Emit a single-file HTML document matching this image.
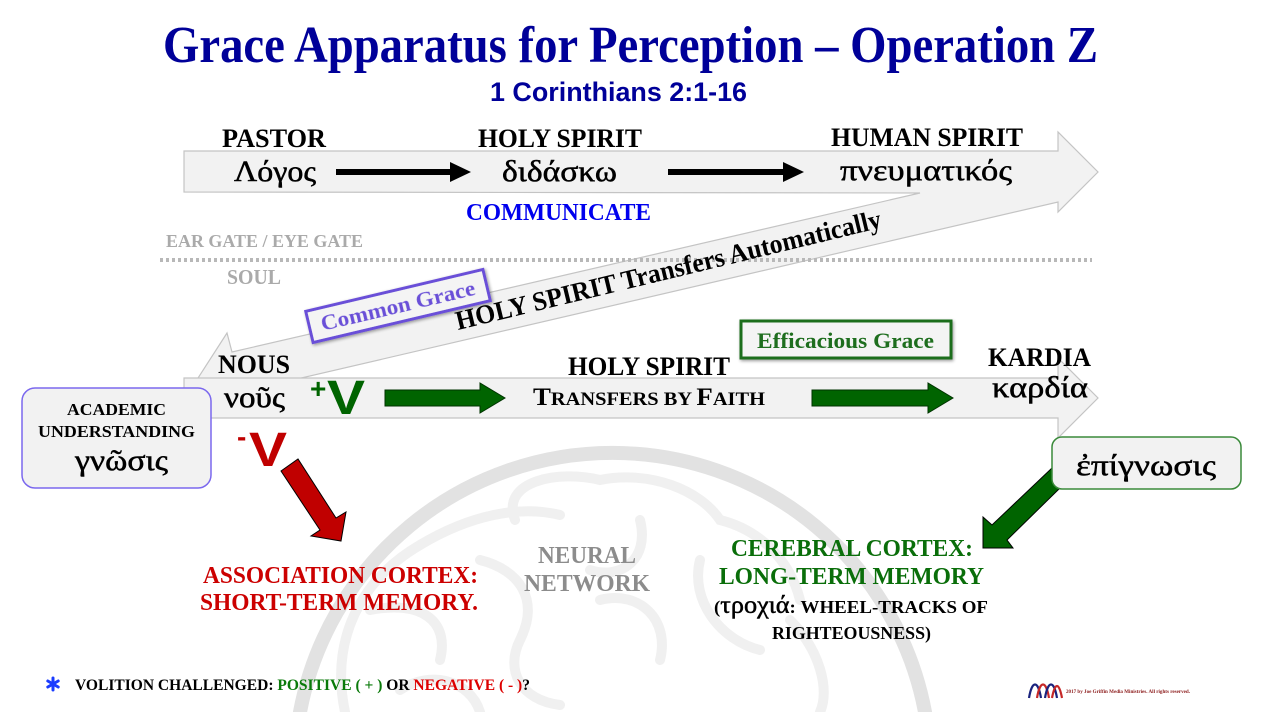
<!DOCTYPE html>
<html><head><meta charset="utf-8"><style>
html,body{margin:0;padding:0;background:#fff;}
svg{display:block;}
.s{font-family:"Liberation Serif","DejaVu Serif",serif;font-weight:bold;}
.g{font-family:"Liberation Serif","DejaVu Serif",serif;font-weight:normal;stroke:#000;stroke-width:0.5;}
.a{font-family:"Liberation Sans","DejaVu Sans",sans-serif;font-weight:bold;}
</style></head><body>
<svg width="1262" height="712" viewBox="0 0 1262 712" xmlns="http://www.w3.org/2000/svg">
<defs>
<filter id="sh" x="-20%" y="-40%" width="140%" height="180%"><feGaussianBlur in="SourceAlpha" stdDeviation="1.5"/><feOffset dx="1" dy="1.5"/><feComponentTransfer><feFuncA type="linear" slope="0.4"/></feComponentTransfer><feMerge><feMergeNode/><feMergeNode in="SourceGraphic"/></feMerge></filter>
</defs>
<!-- brain watermark -->
<g fill="none" stroke-linecap="round">
<path d="M 300 712 A 318 318 0 0 1 925 712" stroke="#e2e2e2" stroke-width="14"/>
<g stroke="#f0f0f0" stroke-width="10">
<path d="M 345 712 C 330 640, 360 580, 420 545 C 470 515, 520 505, 560 515"/>
<path d="M 515 520 C 500 480, 560 470, 600 480 C 650 470, 700 490, 720 520 C 760 530, 790 560, 800 600"/>
<path d="M 370 610 C 420 600, 450 620, 440 660"/>
<path d="M 480 560 C 520 570, 540 600, 520 640 C 505 670, 520 700, 560 705"/>
<path d="M 600 600 C 640 590, 670 620, 660 660"/>
<path d="M 700 560 C 690 600, 720 640, 760 650"/>
<path d="M 640 520 C 650 560, 620 580, 590 570"/>
<path d="M 790 620 C 820 650, 830 690, 820 712"/>
<path d="M 400 690 C 430 670, 470 680, 480 712"/>
</g>
</g>

<!-- title -->
<text x="163" y="62" class="s" font-size="52" fill="#000099" textLength="935" lengthAdjust="spacingAndGlyphs">Grace Apparatus for Perception – Operation Z</text>
<text x="490" y="101" class="a" font-size="27" fill="#000099" textLength="257" lengthAdjust="spacingAndGlyphs">1 Corinthians 2:1-16</text>

<!-- union of top arrow + diagonal arrow -->
<polygon points="184,151 1058,151 1058,132 1098,172 1058,212 1058,202 241,392 244,406 198,378 227,333 232,352 920,193 184,192" fill="#f2f2f2" stroke="#c4c4c4" stroke-width="1.2"/>

<!-- dotted line -->
<line x1="160" y1="260" x2="1092" y2="260" stroke="#b8b8b8" stroke-width="4" stroke-dasharray="3,3"/>

<!-- bottom arrow -->
<polygon points="184,378 1058,378 1058,358 1098,398 1058,438 1058,418 184,418" fill="#f2f2f2" stroke="#c4c4c4" stroke-width="1.2"/>

<!-- top row labels -->
<text x="222" y="147" class="s" font-size="26" fill="#000" textLength="104" lengthAdjust="spacingAndGlyphs">PASTOR</text>
<text x="478" y="147" class="s" font-size="26" fill="#000" textLength="164" lengthAdjust="spacingAndGlyphs">HOLY SPIRIT</text>
<text x="831" y="146" class="s" font-size="26" fill="#000" textLength="192" lengthAdjust="spacingAndGlyphs">HUMAN SPIRIT</text>
<text x="234" y="181" class="g" font-size="30" fill="#000" textLength="82" lengthAdjust="spacingAndGlyphs">Λόγος</text>
<text x="502" y="181" class="g" font-size="30" fill="#000" textLength="115" lengthAdjust="spacingAndGlyphs">διδάσκω</text>
<text x="840" y="180" class="g" font-size="30" fill="#000" textLength="172" lengthAdjust="spacingAndGlyphs">πνευματικός</text>

<!-- black arrows -->
<line x1="336" y1="172" x2="452" y2="172" stroke="#000" stroke-width="6"/>
<polygon points="450,162 471,172 450,182" fill="#000"/>
<line x1="668" y1="172" x2="785" y2="172" stroke="#000" stroke-width="6"/>
<polygon points="783,162 804,172 783,182" fill="#000"/>

<text x="466" y="220" class="s" font-size="24" fill="#0000ee" textLength="185" lengthAdjust="spacingAndGlyphs">COMMUNICATE</text>
<text x="166" y="247" class="s" font-size="18" fill="#aaaaaa" textLength="197" lengthAdjust="spacingAndGlyphs">EAR GATE / EYE GATE</text>
<text x="227" y="284" class="s" font-size="21" fill="#aaaaaa" textLength="54" lengthAdjust="spacingAndGlyphs">SOUL</text>

<!-- diagonal text -->
<g transform="translate(458,330) rotate(-13.6)">
<text x="0" y="0" class="s" font-size="27" fill="#000" textLength="437" lengthAdjust="spacingAndGlyphs">HOLY SPIRIT Transfers Automatically</text>
</g>

<!-- Common Grace box -->
<g transform="translate(398,306) rotate(-13.3)" filter="url(#sh)">
<rect x="-91" y="-16" width="182" height="32" fill="#f4f4f4" stroke="#6a4fd8" stroke-width="3"/>
<text x="0" y="7" class="s" font-size="22" fill="#6a4fd8" text-anchor="middle" textLength="158" lengthAdjust="spacingAndGlyphs">Common Grace</text>
</g>

<!-- bottom row -->
<text x="218" y="373" class="s" font-size="26" fill="#000" textLength="72" lengthAdjust="spacingAndGlyphs">NOUS</text>
<text x="224" y="407" class="g" font-size="30" fill="#000" textLength="61" lengthAdjust="spacingAndGlyphs">νοῦς</text>
<text x="310" y="398" class="a" font-size="28" fill="#006400">+</text>
<text x="327" y="414" class="a" font-size="48" fill="#006400" textLength="38" lengthAdjust="spacingAndGlyphs">V</text>

<polygon points="385,390 480,390 480,383 505,398 480,413 480,406 385,406" fill="#006400" stroke="#003300" stroke-width="1"/>
<polygon points="812,390 928,390 928,383 953,398 928,413 928,406 812,406" fill="#006400" stroke="#003300" stroke-width="1"/>

<text x="568" y="375" class="s" font-size="26" fill="#000" textLength="162" lengthAdjust="spacingAndGlyphs">HOLY SPIRIT</text>
<text x="533" y="405" class="s" fill="#000" textLength="232" lengthAdjust="spacingAndGlyphs"><tspan font-size="25">T</tspan><tspan font-size="19">RANSFERS BY </tspan><tspan font-size="25">F</tspan><tspan font-size="19">AITH</tspan></text>

<!-- Efficacious Grace -->
<g filter="url(#sh)">
<rect x="741" y="321" width="210" height="37" fill="#f4f4f4" stroke="#1e6e1e" stroke-width="3"/>
</g>
<text x="757" y="348" class="s" font-size="22" fill="#1e6e1e" textLength="177" lengthAdjust="spacingAndGlyphs">Efficacious Grace</text>

<text x="988" y="366" class="s" font-size="26" fill="#000" textLength="103" lengthAdjust="spacingAndGlyphs">KARDIA</text>
<text x="992" y="397" class="g" font-size="30" fill="#000" textLength="96" lengthAdjust="spacingAndGlyphs">καρδία</text>

<!-- academic box -->
<rect x="22" y="388" width="189" height="100" rx="13" ry="13" fill="#f2f2f2" stroke="#7b68ee" stroke-width="1.5"/>
<text x="67" y="415" class="s" font-size="17" fill="#000" textLength="99" lengthAdjust="spacingAndGlyphs">ACADEMIC</text>
<text x="38" y="437" class="s" font-size="17" fill="#000" textLength="157" lengthAdjust="spacingAndGlyphs">UNDERSTANDING</text>
<text x="75" y="470" class="g" font-size="30" fill="#000" textLength="93" lengthAdjust="spacingAndGlyphs">γνῶσις</text>

<!-- -V and red arrow -->
<text x="237" y="446" class="a" font-size="28" fill="#c00000">-</text>
<text x="249" y="466" class="a" font-size="48" fill="#c00000" textLength="38" lengthAdjust="spacingAndGlyphs">V</text>
<polygon points="281,471 298,459 336,518 346,512 341,541 311,536 320,530" fill="#c00000" stroke="#000" stroke-width="1"/>

<!-- epignosis box & green arrow -->
<polygon points="1052,468 1060,488 1007,540 1013,548 983,548 983,517 992,525" fill="#006400" stroke="#000" stroke-width="1"/>
<rect x="1052" y="437" width="189" height="52" rx="10" ry="10" fill="#f2f2f2" stroke="#3a8a3a" stroke-width="1.5"/>
<text x="1076" y="475" class="g" font-size="30" fill="#000" textLength="140" lengthAdjust="spacingAndGlyphs">ἐπίγνωσις</text>

<!-- bottom texts -->
<text x="203" y="583" class="s" font-size="24" fill="#cc0000" textLength="275" lengthAdjust="spacingAndGlyphs">ASSOCIATION CORTEX:</text>
<text x="200" y="610" class="s" font-size="24" fill="#cc0000" textLength="278" lengthAdjust="spacingAndGlyphs">SHORT-TERM MEMORY.</text>
<text x="538" y="563" class="s" font-size="24" fill="#8c8c8c" textLength="98" lengthAdjust="spacingAndGlyphs">NEURAL</text>
<text x="524" y="591" class="s" font-size="24" fill="#8c8c8c" textLength="126" lengthAdjust="spacingAndGlyphs">NETWORK</text>
<text x="731" y="556" class="s" font-size="24" fill="#0a6e0a" textLength="242" lengthAdjust="spacingAndGlyphs">CEREBRAL CORTEX:</text>
<text x="719" y="584" class="s" font-size="24" fill="#0a6e0a" textLength="265" lengthAdjust="spacingAndGlyphs">LONG-TERM MEMORY</text>
<text x="714" y="613" fill="#000" textLength="274" lengthAdjust="spacingAndGlyphs"><tspan class="s" font-size="18">(</tspan><tspan class="g" font-size="25">τροχιά</tspan><tspan class="s" font-size="18">: WHEEL-TRACKS OF</tspan></text>
<text x="772" y="639" class="s" font-size="18" fill="#000" textLength="159" lengthAdjust="spacingAndGlyphs">RIGHTEOUSNESS)</text>

<!-- footer -->
<g stroke="#1a3cff" stroke-width="3" stroke-linecap="round">
<line x1="53" y1="678" x2="53" y2="690"/>
<line x1="47.8" y1="681" x2="58.2" y2="687"/>
<line x1="47.8" y1="687" x2="58.2" y2="681"/>
</g>
<text x="75" y="690" class="s" font-size="16" textLength="455" lengthAdjust="spacingAndGlyphs"><tspan fill="#000">VOLITION CHALLENGED: </tspan><tspan fill="#0a7a0a">POSITIVE ( + ) </tspan><tspan fill="#000">OR </tspan><tspan fill="#dd0000">NEGATIVE ( - )</tspan><tspan fill="#000">?</tspan></text>

<!-- copyright -->
<g fill="none" stroke-width="2.2">
<path d="M 1029 698 C 1032 680, 1038 680, 1041 698" stroke="#1a237e"/>
<path d="M 1037 698 C 1040 680, 1046 680, 1049 698" stroke="#c62828"/>
<path d="M 1045 698 C 1048 680, 1054 680, 1057 698" stroke="#1a237e"/>
<path d="M 1052 698 C 1055 682, 1059 682, 1062 698" stroke="#c62828"/>
</g>
<text x="1066" y="693" class="s" font-size="5" fill="#8b1a1a" textLength="124" lengthAdjust="spacingAndGlyphs">2017 by Joe Griffin Media Ministries.   All rights reserved.</text>
</svg>
</body></html>
